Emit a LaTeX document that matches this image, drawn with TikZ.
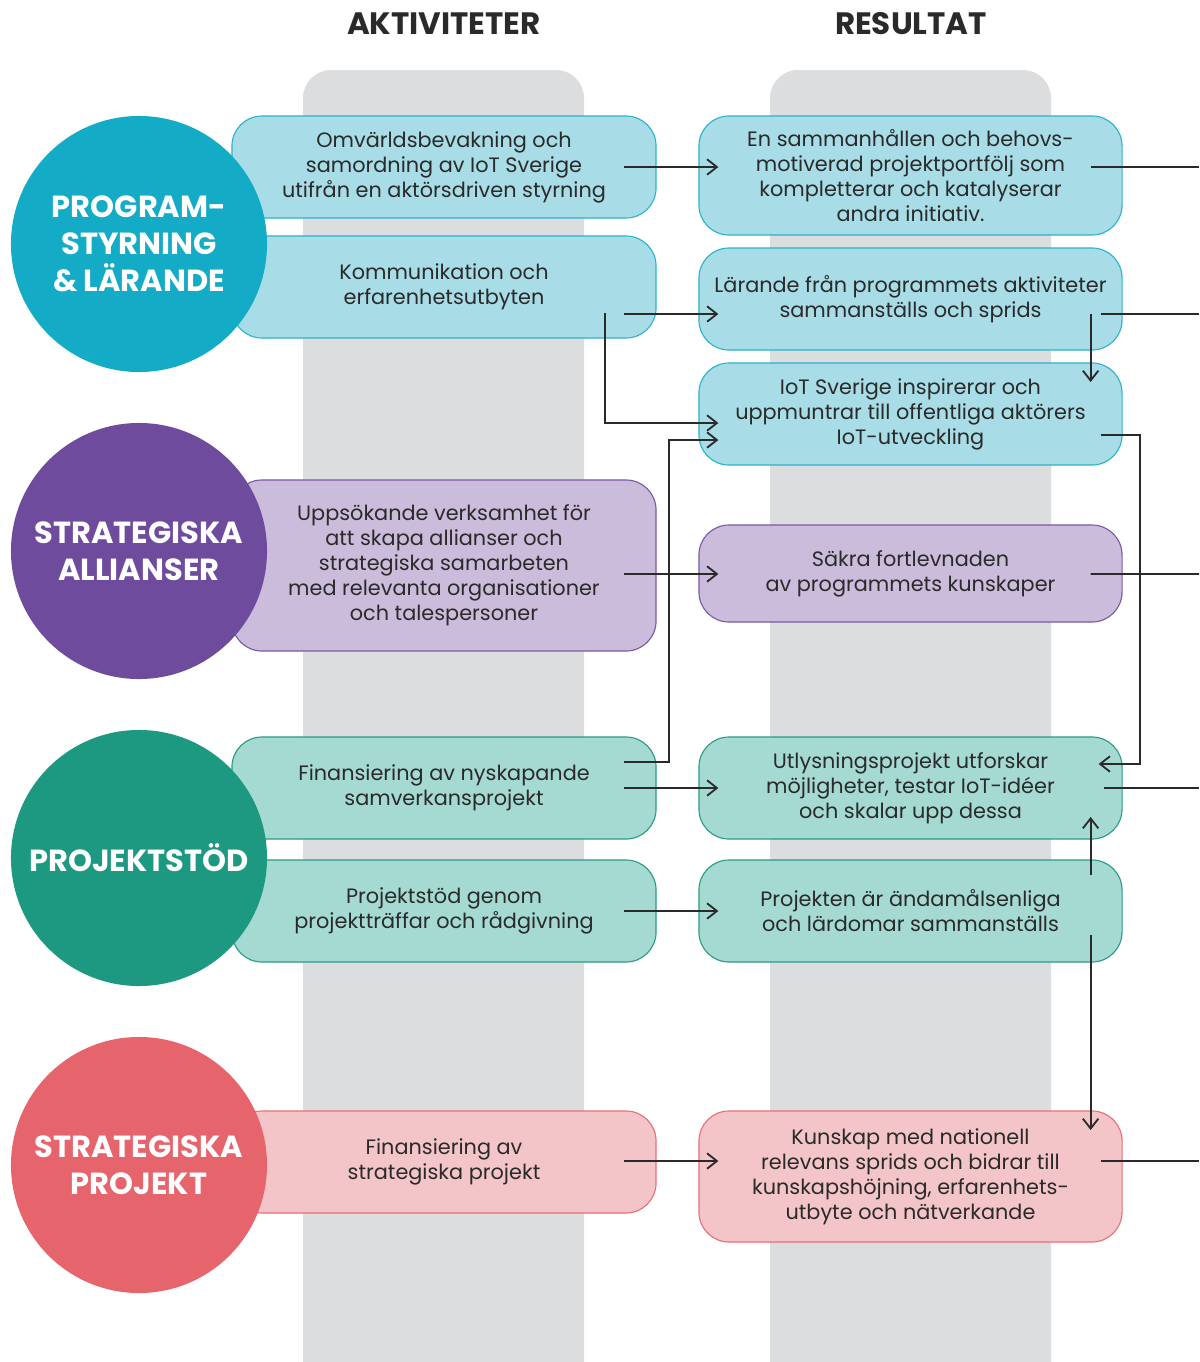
\documentclass[tikz,border=0pt]{standalone}
\usepackage{fontspec}
\setmainfont{Poppins}
\usetikzlibrary{arrows.meta}

\definecolor{ink}{HTML}{2A2A2A}
\definecolor{kolumn}{HTML}{DCDDDF}
\definecolor{progD}{HTML}{13ABC6}
\definecolor{progL}{HTML}{A8DDE7}
\definecolor{progE}{HTML}{2BB3CB}
\definecolor{alliD}{HTML}{6F4B9E}
\definecolor{alliL}{HTML}{CBBCDB}
\definecolor{alliE}{HTML}{7B58A8}
\definecolor{projD}{HTML}{1C9980}
\definecolor{projL}{HTML}{A5DAD3}
\definecolor{projE}{HTML}{2A9C86}
\definecolor{stratD}{HTML}{E6646B}
\definecolor{stratL}{HTML}{F4C5C8}
\definecolor{stratE}{HTML}{E86E77}

\begin{document}
\begin{tikzpicture}[x=0.025cm, y=-0.025cm,
    ruta/.style={draw, line width=0.8pt, rounded corners=0.75cm, minimum height=2.55cm,
        align=center, text=ink, font=\fontsize{14.8}{17.7}\selectfont},
    akt/.style={ruta, minimum width=10.6cm},
    res/.style={ruta, minimum width=10.575cm},
    prog/.style={fill=progL, draw=progE},
    alli/.style={fill=alliL, draw=alliE},
    proj/.style={fill=projL, draw=projE},
    strat/.style={fill=stratL, draw=stratE},
    rund/.style={circle, minimum size=6.4cm, inner sep=0pt, align=center, text=white,
        font=\fontsize{21.7}{26.4}\selectfont\bfseries},
    rubrik/.style={text=ink, font=\fontsize{22}{26}\selectfont\bfseries},
    flow/.style={draw=ink, line width=1.3pt, -{Straight Barb[length=7pt, width=11pt]}},
    ut/.style={draw=ink, line width=1.3pt}]

    \useasboundingbox (0,0) rectangle (1199,1362);

    % grey columns, open at the bottom
    \fill[kolumn, rounded corners=0.7cm] (303,70) rectangle (584,1420);
    \fill[kolumn, rounded corners=0.7cm] (770,70) rectangle (1051,1420);

    \node[rubrik] (hakt) at (444,24) {AKTIVITETER};
    \node[rubrik] (hres) at (911,24) {RESULTAT};

    % aktiviteter
    \node[akt, prog] (akt1) at (444,167) {Omvärldsbevakning och\\samordning av IoT Sverige\\utifrån en aktörsdriven styrning};
    \node[akt, prog] (akt2) at (444,287) {Kommunikation och\\erfarenhetsutbyten};
    \node[akt, alli, minimum height=4.275cm] (akt3) at (444,565.5) {Uppsökande verksamhet för\\att skapa allianser och\\strategiska samarbeten\\med relevanta organisationer\\och talespersoner};
    \node[akt, proj] (akt4) at (444,788) {Finansiering av nyskapande\\samverkansprojekt};
    \node[akt, proj] (akt5) at (444,911) {Projektstöd genom\\projektträffar och rådgivning};
    \node[akt, strat] (akt6) at (444,1162) {Finansiering av\\strategiska projekt};

    % resultat
    \node[res, prog, minimum height=2.975cm] (res1) at (910.5,175.5) {En sammanhållen och behovs-\\motiverad projektportfölj som\\kompletterar och katalyserar\\andra initiativ.};
    \node[res, prog] (res2) at (910.5,299) {Lärande från programmets aktiviteter\\sammanställs och sprids};
    \node[res, prog] (res3) at (910.5,414) {IoT Sverige inspirerar och\\uppmuntrar till offentliga aktörers\\IoT-utveckling};
    \node[res, alli, minimum height=2.425cm] (res4) at (910.5,573.5) {Säkra fortlevnaden\\av programmets kunskaper};
    \node[res, proj] (res5) at (910.5,788) {Utlysningsprojekt utforskar\\möjligheter, testar IoT-idéer\\och skalar upp dessa};
    \node[res, proj] (res6) at (910.5,911) {Projekten är ändamålsenliga\\och lärdomar sammanställs};
    \node[res, strat, minimum height=3.275cm] (res7) at (910.5,1176.5) {Kunskap med nationell\\relevans sprids och bidrar till\\kunskapshöjning, erfarenhets-\\utbyte och nätverkande};

    % circles on top of the boxes
    \node[rund, fill=progD] (cprog) at (139,244) {PROGRAM-\\STYRNING\\\& LÄRANDE};
    \node[rund, fill=alliD] (calli) at (139,551) {STRATEGISKA\\ALLIANSER};
    \node[rund, fill=projD] (cproj) at (139,858) {PROJEKTSTÖD};
    \node[rund, fill=stratD] (cstrat) at (139,1165) {STRATEGISKA\\PROJEKT};

    % free ends at the right edge
    \coordinate (ut1) at (1199,167);
    \coordinate (ut2) at (1199,314);
    \coordinate (ut4) at (1199,574);
    \coordinate (ut5) at (1199,788);
    \coordinate (ut7) at (1199,1161);

    % arrows
    \draw[flow] ([shift={(-33,0)}]akt1.east) -- ([shift={(20,-8.5)}]res1.west);
    \draw[flow] ([shift={(-33,27)}]akt2.east) -- ([shift={(20,15)}]res2.west);
    \draw[flow] ([shift={(-52,26)}]akt2.east) |- ([shift={(20,9)}]res3.west);
    \draw[flow] ([shift={(-33,8.5)}]akt3.east) -- ([shift={(20,0.5)}]res4.west);
    \draw[flow] ([shift={(-33,-26)}]akt4.east) -| ([shift={(-29,26)}]res3.west) -- ([shift={(20,26)}]res3.west);
    \draw[flow] ([shift={(-33,0)}]akt4.east) -- ([shift={(20,0)}]res5.west);
    \draw[flow] ([shift={(-33,0)}]akt5.east) -- ([shift={(20,0)}]res6.west);
    \draw[flow] ([shift={(-33,-1)}]akt6.east) -- ([shift={(20,-15.5)}]res7.west);

    \draw[flow] ([shift={(-32,15)}]res2.east) -- ([shift={(-32,-32)}]res3.east);
    \draw[flow] ([shift={(-22,21)}]res3.east) -| ([shift={(17,-24)}]res5.east) -- ([shift={(-24,-24)}]res5.east);
    \draw[flow] ([shift={(-32,-36)}]res6.east) -- ([shift={(-32,29)}]res5.east);
    \draw[flow] ([shift={(-32,24)}]res6.east) -- ([shift={(-32,-46.5)}]res7.east);

    \draw[ut] ([shift={(-32,-8.5)}]res1.east) -- (ut1);
    \draw[ut] ([shift={(-22,15)}]res2.east) -- (ut2);
    \draw[ut] ([shift={(-32,0.5)}]res4.east) -- (ut4);
    \draw[ut] ([shift={(-19,0)}]res5.east) -- (ut5);
    \draw[ut] ([shift={(-22,-15.5)}]res7.east) -- (ut7);
\end{tikzpicture}
\end{document}
